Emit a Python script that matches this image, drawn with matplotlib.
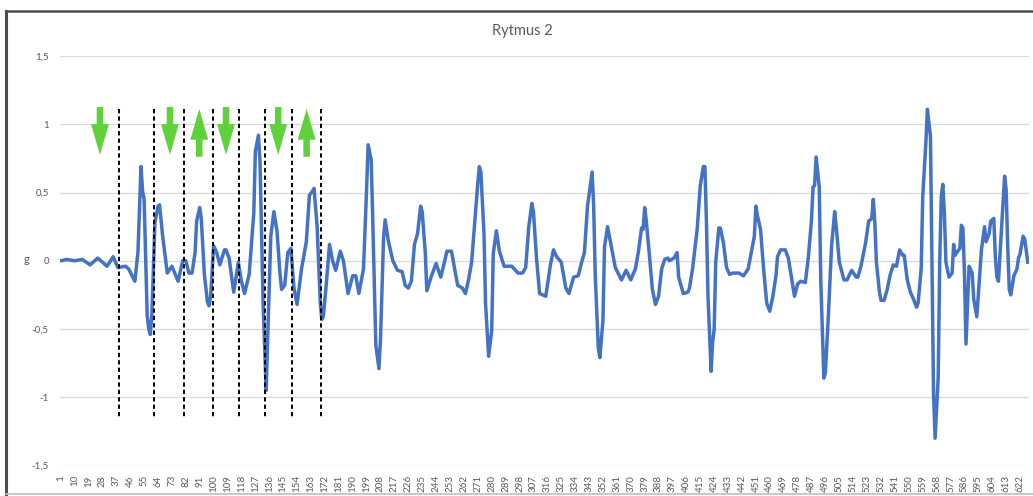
import matplotlib
matplotlib.use("Agg")
import matplotlib.pyplot as plt
from matplotlib.lines import Line2D
from matplotlib.ticker import FuncFormatter

# sample number (Excel category) and acceleration in g
sample_no = [1, 5, 10, 15, 20, 25, 31, 35, 38, 43, 45, 49, 51, 53, 54, 55, 57, 58, 59, 60,
             62, 64, 65, 67, 70, 73, 77, 80, 82, 84, 86, 88, 89, 91, 92, 94, 96, 97, 98, 100,
             102, 104, 107, 108, 110, 113, 116, 118, 120, 123, 126, 127, 129, 130, 132, 134, 135, 137, 139, 141,
             143, 144, 146, 148, 150, 152, 154, 157, 158, 160, 162, 164, 165, 167, 169, 170, 171, 173, 175, 177,
             179, 182, 184, 187, 190, 192, 194, 197, 199, 200, 202, 203, 205, 207, 208, 210, 211, 213, 216, 219,
             222, 224, 226, 228, 230, 232, 234, 235, 237, 238, 241, 244, 247, 249, 251, 254, 256, 258, 261, 263,
             265, 267, 269, 271, 272, 273, 275, 276, 278, 280, 281, 283, 285, 288, 293, 297, 300, 302, 304, 306,
             307, 309, 311, 315, 318, 320, 322, 325, 328, 330, 333, 336, 338, 340, 342, 344, 345, 346, 347, 349,
             350, 352, 353, 355, 357, 360, 364, 367, 370, 373, 375, 377, 378, 379, 380, 382, 384, 386, 388, 390,
             392, 394, 395, 398, 400, 401, 404, 407, 408, 410, 413, 415, 416, 417, 418, 419, 420, 422, 423, 424,
             425, 427, 428, 430, 432, 434, 436, 440, 443, 446, 448, 450, 451, 452, 454, 456, 458, 460, 462, 464,
             465, 467, 470, 472, 474, 476, 478, 480, 483, 485, 487, 488, 489, 490, 492, 493, 495, 496, 498, 500,
             502, 503, 505, 508, 510, 513, 516, 517, 519, 522, 524, 526, 527, 528, 529, 531, 532, 534, 536, 538,
             540, 542, 544, 546, 547, 549, 551, 553, 555, 556, 558, 559, 561, 562, 564, 565, 566, 567, 569, 570,
             571, 572, 573, 574, 576, 578, 579, 580, 581, 583, 584, 585, 586, 587, 589, 591, 592, 594, 597, 599,
             600, 602, 603, 605, 606, 607, 608, 610, 612, 613, 614, 615, 616, 618, 620, 621, 622, 624, 625, 627]
accel_g = [0.00, 0.01, 0.00, 0.01, -0.03, 0.02, -0.04, 0.03, -0.05, -0.04, -0.06, -0.15, 0.06, 0.69, 0.51, 0.45, -0.40, -0.50, -0.54, -0.40,
           0.28, 0.40, 0.41, 0.18, -0.09, -0.04, -0.15, 0.00, 0.00, -0.09, -0.09, 0.06, 0.29, 0.39, 0.31, -0.10, -0.30, -0.33, -0.27, 0.11,
           0.06, -0.03, 0.08, 0.08, 0.02, -0.23, -0.01, -0.15, -0.24, -0.10, 0.35, 0.80, 0.92, 0.73, -0.30, -0.95, -0.56, 0.18, 0.36, 0.22,
           -0.10, -0.21, -0.18, 0.06, 0.09, -0.20, -0.32, -0.05, 0.01, 0.14, 0.48, 0.51, 0.53, 0.25, -0.30, -0.43, -0.41, -0.16, 0.12, 0.00,
           -0.07, 0.07, 0.00, -0.24, -0.11, -0.11, -0.24, -0.06, 0.52, 0.85, 0.74, 0.30, -0.62, -0.79, -0.58, 0.17, 0.30, 0.15, 0.00, -0.07,
           -0.08, -0.18, -0.20, -0.15, 0.12, 0.20, 0.40, 0.36, 0.06, -0.22, -0.11, -0.02, -0.12, -0.03, 0.07, 0.07, -0.06, -0.18, -0.20, -0.24,
           -0.14, -0.01, 0.28, 0.57, 0.69, 0.65, 0.20, -0.31, -0.70, -0.51, 0.05, 0.22, 0.07, -0.04, -0.04, -0.09, -0.09, -0.05, 0.25, 0.42,
           0.36, 0.02, -0.24, -0.26, -0.03, 0.08, 0.03, -0.01, -0.20, -0.24, -0.12, -0.11, -0.02, 0.06, 0.40, 0.57, 0.65, 0.40, -0.10, -0.64,
           -0.71, -0.44, 0.10, 0.25, 0.13, -0.05, -0.14, -0.07, -0.14, -0.06, 0.07, 0.24, 0.23, 0.39, 0.30, 0.05, -0.21, -0.32, -0.26, -0.06,
           0.01, 0.02, 0.00, 0.02, 0.06, -0.12, -0.24, -0.23, -0.20, -0.06, 0.23, 0.55, 0.62, 0.69, 0.69, 0.28, -0.26, -0.81, -0.60, -0.50,
           -0.01, 0.24, 0.24, 0.13, -0.05, -0.10, -0.09, -0.09, -0.11, -0.06, 0.06, 0.18, 0.40, 0.33, 0.23, -0.06, -0.31, -0.37, -0.26, -0.11,
           0.03, 0.08, 0.08, 0.02, -0.12, -0.26, -0.17, -0.15, -0.16, 0.03, 0.30, 0.54, 0.55, 0.76, 0.54, -0.14, -0.86, -0.82, -0.38, 0.11,
           0.36, 0.25, -0.01, -0.14, -0.14, -0.07, -0.12, -0.12, -0.04, 0.13, 0.29, 0.31, 0.45, 0.28, -0.01, -0.23, -0.29, -0.29, -0.21, -0.10,
           -0.03, -0.04, 0.08, 0.04, 0.04, -0.14, -0.23, -0.28, -0.34, -0.31, -0.06, 0.47, 0.86, 1.11, 0.91, -0.01, -0.98, -1.30, -0.86, -0.01,
           0.47, 0.56, 0.35, -0.01, -0.12, -0.09, 0.12, 0.04, 0.06, 0.09, 0.26, 0.24, -0.09, -0.61, -0.04, -0.09, -0.28, -0.41, 0.08, 0.25,
           0.14, 0.20, 0.29, 0.31, 0.03, -0.12, -0.15, 0.23, 0.62, 0.52, 0.11, -0.21, -0.25, -0.11, -0.06, 0.02, 0.05, 0.18, 0.16, -0.01]

# hand-drawn annotations on the screenshot (sample positions)
dashed_at = [38.7, 61.4, 81.0, 99.4, 116.4, 133.4, 150.7, 169.5]
arrows_down = [26.4, 71.7, 108.0, 141.8]
arrows_up = [90.7, 160.2]

tick_samples = list(range(1, 627, 9))
y_ticks = [-1.5, -1, -0.5, 0, 0.5, 1, 1.5]

plt.rcParams['font.family'] = ['Lato', 'DejaVu Sans']
fig = plt.figure(figsize=(10.33, 4.96), dpi=100)
ax = fig.add_axes([0.058, 0.0615, 0.9377, 0.8255])

ax.plot(sample_no, accel_g, color='#4472C4', lw=2.5, solid_joinstyle='round', zorder=3)

ax.set_xlim(0.5, 627.5)
ax.set_ylim(-1.5, 1.5)
ax.set_yticks(y_ticks)
ax.yaxis.set_major_formatter(FuncFormatter(lambda v, p: ('%g' % v).replace('.', ',')))
ax.set_xticks(tick_samples)
ax.set_xticklabels([str(t) for t in tick_samples], rotation=90, va='top', ha='center')
ax.tick_params(axis='both', length=0, colors='#595959', labelsize=7)
ax.tick_params(axis='x', pad=7)
ax.tick_params(axis='y', pad=8)
ax.grid(axis='y', color='#D9D9D9', lw=0.9)
for s in ax.spines.values():
    s.set_visible(False)

# axis title "g" sits just left of the tick labels, level with 0
fig.text(27 / 1033, 1 - 259.7 / 496, 'g', ha='center', va='center', color='#595959', fontsize=8)
fig.text(0.506, 0.937, 'Rytmus 2', ha='center', va='center', color='#595959', fontsize=10.5)

# black dashed separators
for x in dashed_at:
    ax.plot([x, x], [1.11, -1.145], color='black', lw=1.4, ls=(0, (2.2, 1.6)), zorder=4)

# green arrows
green = '#5FD13A'
for x in arrows_down:
    ax.arrow(x, 1.126, 0, -0.35, width=4.2, head_width=11.5, head_length=0.225,
             length_includes_head=True, color=green, lw=0, zorder=5)
for x in arrows_up:
    ax.arrow(x, 0.762, 0, 0.35, width=4.2, head_width=11.5, head_length=0.225,
             length_includes_head=True, color=green, lw=0, zorder=5)

# screenshot frame: dark left/top edge, light bottom edge
fx0, fy_top, fy_bot = 5.5 / 1033, 1 - 10.5 / 496, 1 - 494 / 496
fig.add_artist(Line2D([fx0, fx0], [fy_bot, fy_top], transform=fig.transFigure, color='#4D4D4D', lw=2.2))
fig.add_artist(Line2D([fx0, 1.0], [fy_top, fy_top], transform=fig.transFigure, color='#4D4D4D', lw=1.8))
fig.add_artist(Line2D([fx0, 1.0], [fy_bot, fy_bot], transform=fig.transFigure, color='#BFBFBF', lw=1.2))

fig.savefig('out.png', dpi=100)
